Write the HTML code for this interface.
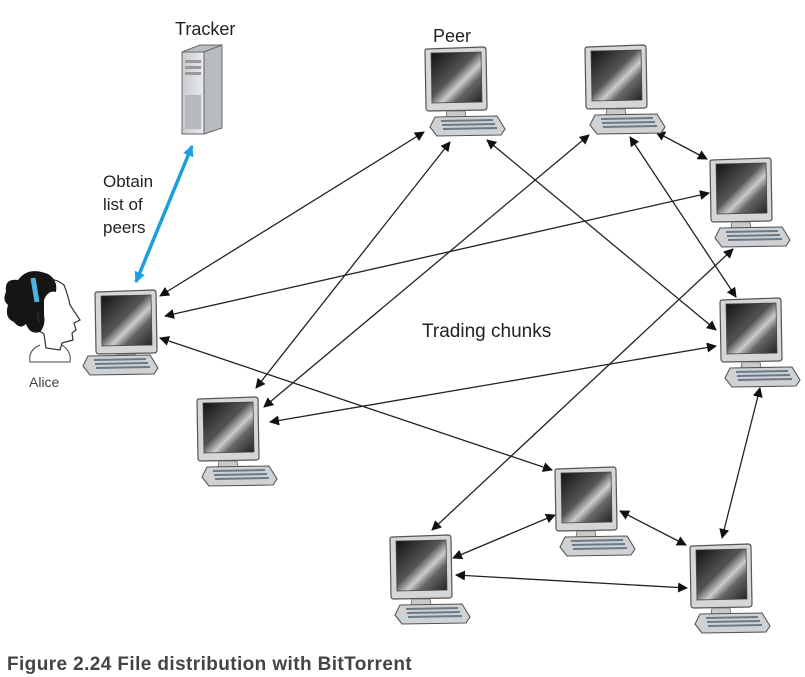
<!DOCTYPE html>
<html><head><meta charset="utf-8"><style>
html,body{margin:0;padding:0;background:#fff;width:805px;height:677px;overflow:hidden}
svg{display:block}
text{font-family:"Liberation Sans",sans-serif}
</style></head><body>
<svg width="805" height="677" viewBox="0 0 805 677" xmlns="http://www.w3.org/2000/svg">
<defs>
<linearGradient id="scr" x1="0" y1="0" x2="1" y2="1">
<stop offset="0" stop-color="#111"/><stop offset="0.45" stop-color="#555"/><stop offset="0.6" stop-color="#ccc"/><stop offset="0.72" stop-color="#666"/><stop offset="1" stop-color="#222"/>
</linearGradient>
<linearGradient id="srv" x1="0" y1="0" x2="1" y2="0">
<stop offset="0" stop-color="#c8ccd0"/><stop offset="1" stop-color="#e8eaec"/>
</linearGradient>
<marker id="ah" viewBox="0 0 10 10" refX="9" refY="5" markerWidth="10" markerHeight="10" markerUnits="userSpaceOnUse" orient="auto-start-reverse">
<path d="M0,0 L10,5 L0,10 Z" fill="#111"/></marker>
<marker id="bh" viewBox="0 0 10 10" refX="9" refY="5" markerWidth="11" markerHeight="11" markerUnits="userSpaceOnUse" orient="auto-start-reverse">
<path d="M0,0 L10,5 L0,10 Z" fill="#1aa0dc"/></marker>
<g id="mon">
<path d="M2,2 L58,0 Q61,0 61,3 L62,60 Q62,63 59,63 L4,64 Q1,64 1,61 L0,4 Q0,2 2,2Z" fill="#d4d6d8" stroke="#555" stroke-width="1.2"/>
<path d="M6,6 L56,5 L57,55 L7,56Z" fill="url(#scr)" stroke="#444" stroke-width="0.8"/>
<path d="M22,64 L40,64 L41,70 L21,70Z" fill="#c8cacc" stroke="#666" stroke-width="0.8"/>
</g>
<g id="kb">
<path d="M10,70 L72,69 L80,82 L76,88 L12,89 L5,80Z" fill="#cfd1d3" stroke="#555" stroke-width="1.1"/>
<path d="M16,74 L68,73 M17,78 L70,77 M18,82 L72,81" stroke="#6a7a88" stroke-width="2"/>
</g>
<g id="pc"><use href="#mon"/><use href="#kb"/></g>
</defs>

<!-- tracker -->
<text x="175" y="35" font-size="18" fill="#222">Tracker</text>
<path d="M182,52 L200,45 L222,45 L222,128 L204,134 L182,134Z" fill="#b8bcc0" stroke="#666"/>
<path d="M182,52 L204,52 L204,134 L182,134Z" fill="url(#srv)" stroke="#666"/>
<path d="M204,52 L222,45" stroke="#666"/>
<rect x="185" y="60" width="16" height="3" fill="#999"/><rect x="185" y="66" width="16" height="3" fill="#999"/><rect x="185" y="72" width="16" height="3" fill="#999"/>
<rect x="185" y="95" width="16" height="34" fill="#b5b9bd"/>

<text x="433" y="42" font-size="18" fill="#222">Peer</text>
<text x="103" y="187" font-size="17" fill="#222">Obtain</text>
<text x="103" y="210" font-size="17" fill="#222">list of</text>
<text x="103" y="233" font-size="17" fill="#222">peers</text>
<text x="422" y="337" font-size="19" fill="#222">Trading chunks</text>
<text x="29" y="387" font-size="14" fill="#444">Alice</text>

<!-- Alice figure -->
<path d="M40,345 Q28,350 30,362 L70,362 Q72,352 62,345" fill="#fff" stroke="#444"/>
<path d="M36,290 Q48,272 64,285 Q68,295 70,305 L80,320 L74,323 L76,330 L72,333 L73,340 L62,343 L60,350 L46,348 L44,334 Q36,330 34,318Z" fill="#fff" stroke="#333" stroke-width="1.2"/>
<path d="M6,292 Q4,278 18,280 Q28,266 48,274 Q58,280 56,292 Q48,290 44,300 L44,315 Q46,325 40,332 Q30,335 26,324 Q20,330 14,322 Q4,318 8,305 Q2,300 6,292Z" fill="#151515"/>
<path d="M33,278 L37,302" stroke="#4ab4e6" stroke-width="5"/>
<path d="M40,322 Q36,318 39,312" stroke="#333" fill="none"/>

<g fill="none" stroke="#222" stroke-width="1.3" marker-start="url(#ah)" marker-end="url(#ah)">
<line x1="160" y1="296" x2="424" y2="132"/>
<line x1="165" y1="316" x2="709" y2="193"/>
<line x1="160" y1="338" x2="552" y2="470"/>
<line x1="256" y1="388" x2="450" y2="142"/>
<line x1="264" y1="407" x2="589" y2="135"/>
<line x1="270" y1="422" x2="716" y2="346"/>
<line x1="487" y1="140" x2="716" y2="330"/>
<line x1="630" y1="137" x2="736" y2="297"/>
<line x1="656" y1="132" x2="707" y2="159"/>
<line x1="733" y1="249" x2="432" y2="530"/>
<line x1="760" y1="388" x2="722" y2="538"/>
<line x1="555" y1="515" x2="453" y2="558"/>
<line x1="620" y1="511" x2="686" y2="545"/>
<line x1="456" y1="575" x2="687" y2="588"/>
</g>
<line x1="192" y1="146" x2="136" y2="282" stroke="#1aa0dc" stroke-width="3.5" marker-start="url(#bh)" marker-end="url(#bh)"/>

<use href="#mon" x="95" y="290"/>
<use href="#kb" x="78" y="286"/>
<use href="#pc" x="425" y="47"/>
<use href="#pc" x="585" y="45"/>
<use href="#pc" x="710" y="158"/>
<use href="#pc" x="720" y="298"/>
<use href="#pc" x="197" y="397"/>
<use href="#pc" x="555" y="467"/>
<use href="#pc" x="390" y="535"/>
<use href="#pc" x="690" y="544"/>

<text x="7" y="670" font-size="19" font-weight="bold" letter-spacing="0.4" fill="#444">Figure 2.24 File distribution with BitTorrent</text>
</svg>
</body></html>
